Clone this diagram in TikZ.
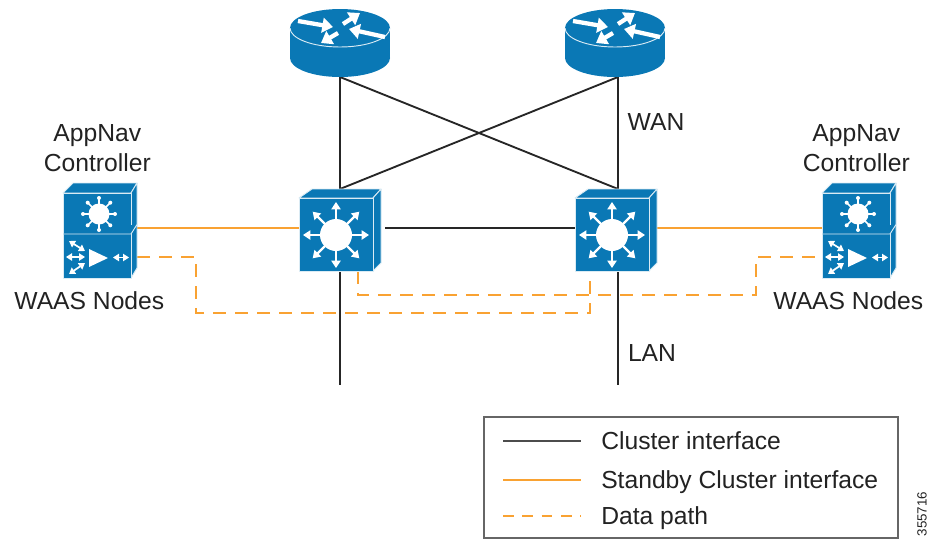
\documentclass[tikz,border=0pt]{standalone}
\usepackage{fontspec}
\setmainfont{Liberation Sans}
\usetikzlibrary{arrows.meta, positioning}

\definecolor{ciscoblue}{HTML}{0A78B5}
\definecolor{linkorange}{HTML}{F9A232}
\definecolor{inktext}{HTML}{222222}

\tikzset{
    devicebox/.style={rectangle, inner sep=0pt, outer sep=0pt},
    facepart/.style={fill=ciscoblue, draw=white!85!ciscoblue, line width=0.7pt, line join=round},
    txtlabel/.style={align=center, text=inktext, inner sep=0pt, font=\fontsize{18.5}{22.5}\selectfont},
    keylabel/.style={txtlabel, text height=13pt, text depth=0pt},
    cluster/.style={draw=black!85, line width=1.4pt},
    standby/.style={draw=linkorange, line width=1.7pt},
    datapath/.style={draw=linkorange, line width=1.6pt, dash pattern=on 9.5pt off 7pt},
    whitearrow/.style={draw=white, line width=1.8pt, -{Triangle[width=6.8pt,length=5.5pt]}},
    rtarrow/.style={draw=white, line width=3.2pt, -{Triangle[width=11pt,length=8pt]}},
    thinarrow/.style={draw=white, line width=1.3pt, {Triangle[width=5.5pt,length=4.5pt]}-{Triangle[width=5.5pt,length=4.5pt]}}
}

% the three device icons, drawn over a node of the same name
\newcommand{\routericon}[1]{
    \begin{scope}[shift={(#1.center)}]
        \fill[ciscoblue] (0,15) ellipse [x radius=50, y radius=19];
        \fill[ciscoblue] (-50,-15) rectangle (50,15);
        \fill[ciscoblue] (0,-15) ellipse [x radius=50, y radius=19];
        \draw[white!85!ciscoblue, line width=0.7pt] (-50,-15) arc [start angle=180, end angle=0, x radius=50, y radius=19];
        \draw[rtarrow] (-42,-22) -- (-7,-16);
        \draw[rtarrow] (-2,-10) -- (-19,0);
        \draw[rtarrow] (45,-6) -- (9,-14);
        \draw[rtarrow] (3,-19) -- (20,-30);
    \end{scope}
}
\newcommand{\switchicon}[1]{
    \begin{scope}[shift={(#1.center)}]
        \draw[facepart] (-41,-32) -- (-28,-41) -- (41,-41) -- (33,-32) -- cycle;
        \draw[facepart] (33,-32) -- (41,-41) -- (41,33) -- (33,41) -- cycle;
        \draw[facepart] (-41,-32) rectangle (33,41);
        \foreach \ang in {0,45,...,315} {
            \draw[whitearrow] (-4,5) ++(\ang:15) -- ++(\ang:18);
        }
        \fill[white] (-4,5) circle [radius=16];
    \end{scope}
}
\newcommand{\navicon}[1]{
    \begin{scope}[shift={(#1.center)}]
        \draw[facepart] (-37,-37.5) -- (-27,-47.5) -- (37,-47.5) -- (31,-37.5) -- cycle;
        \draw[facepart] (31,-37.5) -- (37,-47.5) -- (37,37.5) -- (31,47.5) -- cycle;
        \draw[facepart] (-37,-37.5) rectangle (31,47.5);
        \draw[facepart] (-37,3.5) -- (31,3.5) -- (37,-6);
        \foreach \ang in {0,45,...,315} {
            \draw[white, line width=1.2pt] (-1,-16.5) -- ++(\ang:16);
            \fill[white] (-1,-16.5) ++(\ang:16) circle [radius=2];
        }
        \fill[white] (-1,-16.5) circle [radius=10.5];
        \fill[white] (-11,18.5) -- (8,27.5) -- (-11,36.5) -- cycle;
        \draw[thinarrow] (-34,26.5) -- (-15,26.5);
        \draw[thinarrow] (-31,10.5) -- (-15,20.5);
        \draw[thinarrow] (-31,43.5) -- (-15,32.5);
        \draw[thinarrow] (13,27) -- (29,27);
    \end{scope}
}

\begin{document}
\begin{tikzpicture}[x=0.75pt, y=-0.75pt]

    \useasboundingbox (0,0) rectangle (928,540);

    \node [devicebox, minimum width=75pt, minimum height=51pt] (rtleft) at (340,43) {};
    \node [devicebox, minimum width=75pt, minimum height=51pt] (rtright) at (615,43) {};
    \node [devicebox, minimum width=61.5pt, minimum height=61.5pt] (swleft) at (340,230) {};
    \node [devicebox, minimum width=61.5pt, minimum height=61.5pt] (swright) at (616,230) {};
    \node [devicebox, minimum width=55.5pt, minimum height=71.25pt] (navleft) at (100,230.5) {};
    \node [devicebox, minimum width=55.5pt, minimum height=71.25pt] (navright) at (859,230.5) {};

    \coordinate (lanleft) at (340,385);
    \coordinate (lanright) at (618,385);
    \coordinate (dropa) at (196,313);
    \coordinate (dropb) at (756,295);

    \draw [cluster] (rtleft.south) -- (swleft.north);
    \draw [cluster] ([xshift=2.25pt]rtright.south) -- ([xshift=1.5pt]swright.north);
    \draw [cluster] (rtleft.south) -- ([xshift=1.5pt]swright.north);
    \draw [cluster] ([xshift=2.25pt]rtright.south) -- (swleft.north);
    \draw [cluster] ([xshift=3pt, yshift=1.5pt]swleft.east) -- ([yshift=1.5pt]swright.west);
    \draw [cluster] (swleft.south) -- (lanleft);
    \draw [cluster] ([xshift=1.5pt]swright.south) -- (lanright);

    \draw [standby] ([yshift=1.875pt]navleft.east) -- ([yshift=1.5pt]swleft.west);
    \draw [standby] ([yshift=1.5pt]swright.east) -- ([yshift=1.875pt]navright.west);

    \draw [datapath] ([yshift=-20pt]navleft.east) -| (dropa) -| ([xshift=-19.5pt]swright.south);
    \draw [datapath] ([xshift=13.5pt]swleft.south) |- (dropb) |- ([yshift=-20pt]navright.west);

    \routericon{rtleft}
    \routericon{rtright}
    \switchicon{swleft}
    \switchicon{swright}
    \navicon{navleft}
    \navicon{navright}

    \node [txtlabel, above = 8pt of navleft, xshift=-2pt] (navleft_top) {AppNav\\Controller};
    \node [txtlabel, above = 8pt of navright, xshift=-2pt] (navright_top) {AppNav\\Controller};
    \node [txtlabel, below = 10pt of navleft, xshift=-8pt] (navleft_bot) {WAAS Nodes};
    \node [txtlabel, below = 10pt of navright, xshift=-8pt] (navright_bot) {WAAS Nodes};
    \node [txtlabel] (wan) at (656,122) {WAN};
    \node [txtlabel] (lan) at (652,353) {LAN};

    % legend
    \node [devicebox, draw=black!60, line width=1.2pt, minimum width=310.5pt, minimum height=90.75pt] (legend) at (691,477.5) {};

    \coordinate (keya_l) at (503,441);
    \coordinate (keya_r) at (581,441);
    \coordinate (keyb_l) at (503,480);
    \coordinate (keyb_r) at (581,480);
    \coordinate (keyc_l) at (503,516);
    \coordinate (keyc_r) at (581,516);

    \draw [cluster, draw=black!70] (keya_l) -- (keya_r);
    \draw [standby] (keyb_l) -- (keyb_r);
    \draw [datapath, line width=1.1pt, dash pattern=on 8pt off 6.5pt] (keyc_l) -- (keyc_r);

    \node [keylabel, right = 15pt of keya_r] (keya_txt) {Cluster interface};
    \node [keylabel, right = 15pt of keyb_r] (keyb_txt) {Standby Cluster interface};
    \node [keylabel, right = 15pt of keyc_r] (keyc_txt) {Data path};

    \node [txtlabel, rotate=90, font=\fontsize{10}{12}\selectfont] (figno) at (922,514) {355716};

\end{tikzpicture}
\end{document}
